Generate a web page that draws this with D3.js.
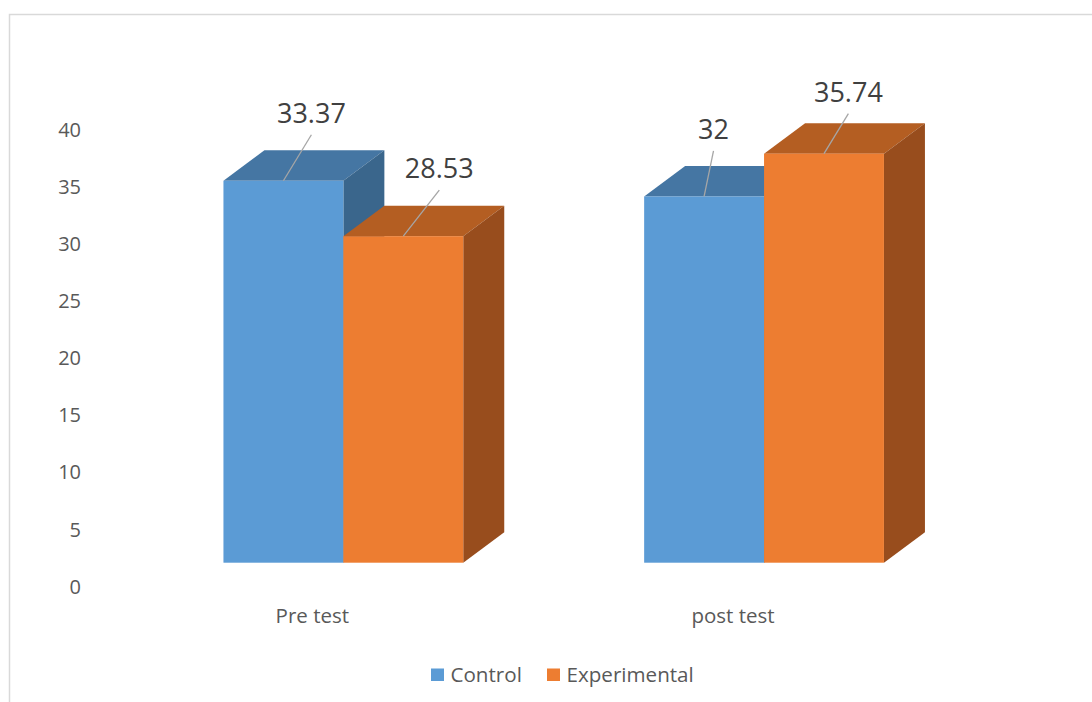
<!DOCTYPE html>
<html>
<head>
<meta charset="utf-8">
<script src="https://cdn.jsdelivr.net/npm/d3@7"></script>
<style>
  html, body { margin: 0; padding: 0; background: #ffffff; }
  svg { display: block; font-family: "Open Sans", "Liberation Sans", sans-serif; }
</style>
</head>
<body>
<svg id="chart" width="1092" height="702"></svg>
<script>
// ---- data ----
const categories = ["Pre test", "post test"];
const seriesNames = ["Control", "Experimental"];
const controlValues = [33.37, 32];
const experimentalValues = [28.53, 35.74];
const yTicks = [0, 5, 10, 15, 20, 25, 30, 35, 40];

// ---- layout / style (not data) ----
const colors = {
  Control: { front: "#5B9BD5", top: "#4576A3", side: "#3A668C" },
  Experimental: { front: "#ED7D31", top: "#B45E22", side: "#984D1D" }
};
const depth = { dx: 41, dy: -30.5 };
// manual label placements relative to front-top center of bar: [series][category]
const labelOffsets = {
  Control: [[28, -46], [9.4, -45.7]],
  Experimental: [[36, -46], [24.4, -40]]
};
const textColor = "#595959";

const svg = d3.select("#chart");

// border
svg.append("path")
  .attr("d", "M9.5,702 L9.5,14.5 L1092,14.5")
  .attr("fill", "none")
  .attr("stroke", "#d9d9d9")
  .attr("stroke-width", 1.5);

// scales
const x0 = d3.scaleBand().domain(categories).range([133, 974.4]).paddingInner(0.43).paddingOuter(0.215);
const x1 = d3.scaleBand().domain(seriesNames).range([0, x0.bandwidth()]).padding(0);
const y = d3.scaleLinear().domain([0, 40]).range([562.7, 104.9]);
const yAxisScale = d3.scaleLinear().domain([0, 40]).range([586.7, 130]);

// y axis labels
const yAxis = svg.append("g")
  .attr("transform", "translate(81,0)")
  .call(d3.axisLeft(yAxisScale).tickValues(yTicks).tickSize(0).tickPadding(0).tickFormat(d3.format("d")));
yAxis.select(".domain").remove();
yAxis.selectAll("text")
  .attr("fill", textColor)
  .attr("font-size", 20)
  .attr("font-family", "'Open Sans', sans-serif");

// bars
const seriesData = seriesNames.map((s, i) => ({
  name: s,
  values: i === 0 ? controlValues : experimentalValues
}));

seriesData.forEach(series => {
  const g = svg.append("g");
  series.values.forEach((v, ci) => {
    const cat = categories[ci];
    const xl = x0(cat) + x1(series.name);
    const xr = xl + x1.bandwidth();
    const yt = y(v);
    const yb = y(0);
    const c = colors[series.name];
    g.append("path")
      .attr("d", `M${xl},${yt} L${xl + depth.dx},${yt + depth.dy} L${xr + depth.dx},${yt + depth.dy} L${xr},${yt} Z`)
      .attr("fill", c.top);
    g.append("path")
      .attr("d", `M${xr},${yt} L${xr + depth.dx},${yt + depth.dy} L${xr + depth.dx},${yb + depth.dy} L${xr},${yb} Z`)
      .attr("fill", c.side);
    g.append("rect")
      .attr("x", xl).attr("y", yt)
      .attr("width", xr - xl).attr("height", yb - yt)
      .attr("fill", c.front);
  });
});

// data labels with leader lines
seriesData.forEach(series => {
  series.values.forEach((v, ci) => {
    const cat = categories[ci];
    const cx = x0(cat) + x1(series.name) + x1.bandwidth() / 2;
    const cy = y(v);
    const off = labelOffsets[series.name][ci];
    const ex = cx + off[0], ey = cy + off[1];
    svg.append("line")
      .attr("x1", cx).attr("y1", cy)
      .attr("x2", ex).attr("y2", ey)
      .attr("stroke", "#a6a6a6").attr("stroke-width", 1.3);
    svg.append("text")
      .attr("x", ex).attr("y", ey - 12)
      .attr("text-anchor", "middle")
      .attr("font-size", 27)
      .attr("fill", "#404040")
      .text(String(v));
  });
});

// category labels
svg.append("g").selectAll("text")
  .data(categories)
  .join("text")
  .attr("x", d => x0(d) + x0.bandwidth() / 2 - 31)
  .attr("y", 623)
  .attr("text-anchor", "middle")
  .attr("font-size", 20.5)
  .attr("fill", textColor)
  .text(d => d);

// legend
const legendItems = [
  { name: seriesNames[0], x: 431, tx: 450.5 },
  { name: seriesNames[1], x: 547, tx: 566.5 }
];
const legend = svg.append("g");
legendItems.forEach(it => {
  legend.append("rect")
    .attr("x", it.x).attr("y", 668.5)
    .attr("width", 13).attr("height", 12.5)
    .attr("fill", colors[it.name].front);
  legend.append("text")
    .attr("x", it.tx).attr("y", 682)
    .attr("font-size", 20.6)
    .attr("fill", textColor)
    .text(it.name);
});
</script>
</body>
</html>
